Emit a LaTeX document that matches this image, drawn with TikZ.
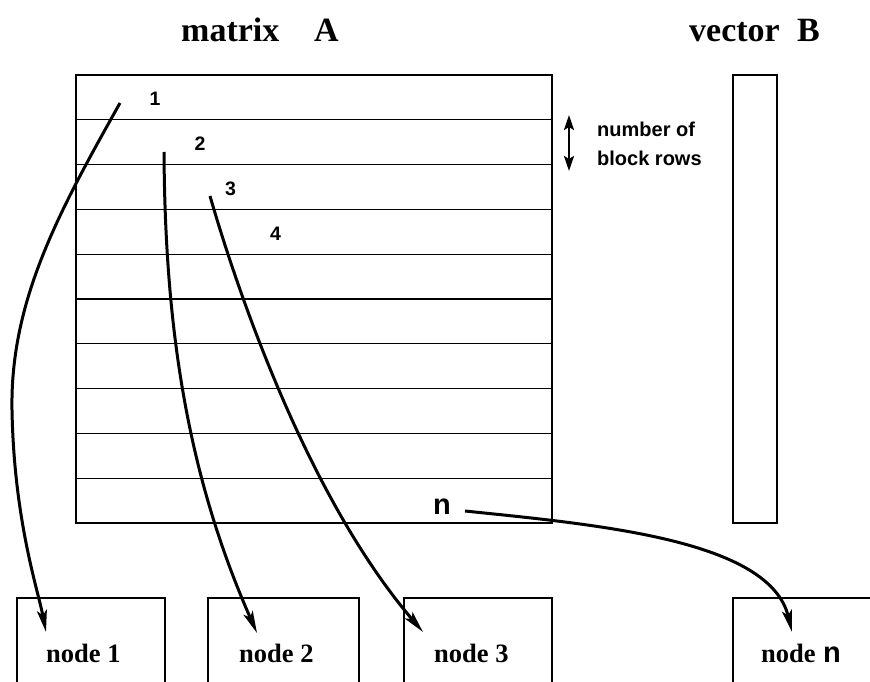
\documentclass[tikz,border=0pt]{standalone}
\usepackage{fontspec}
\setmainfont{Liberation Serif}
\setsansfont{Liberation Sans}
\usetikzlibrary{arrows.meta}
\tikzset{
  thin line/.style={line width=1.2pt},
  flow/.style={line width=3pt,-{Stealth[length=22pt,width=10pt,inset=5pt]}},
  title/.style={font=\fontsize{34}{36}\selectfont\bfseries,inner sep=0pt,anchor=base west},
  nodelabel/.style={font=\fontsize{26.5}{28}\selectfont\bfseries,inner sep=0pt,anchor=base west},
  num/.style={font=\sffamily\bfseries\fontsize{19.5}{21}\selectfont,inner sep=0pt},
  annot/.style={font=\sffamily\bfseries\fontsize{20}{28}\selectfont,inner sep=0pt,anchor=base west},
  bigsans/.style={font=\sffamily\bfseries\fontsize{29}{30}\selectfont,inner sep=0pt,anchor=base west},
}
\begin{document}
\begin{tikzpicture}[x=1pt,y=-1pt]
\useasboundingbox (0,0) rectangle (870,682);
% matrix A
\draw[thin line] (76,75) rectangle (552,523);
\foreach \k in {1,...,9} \draw[thin line] (76,{75+44.8*\k}) -- (552,{75+44.8*\k});
% vector B
\draw[thin line] (733,75) rectangle (777,523);
% bottom boxes
\draw[thin line] (17,700) |- (165,598) -- (165,700);
\draw[thin line] (208,700) |- (359,598) -- (359,700);
\draw[thin line] (404,700) |- (552,598) -- (552,700);
\draw[thin line] (733,700) |- (900,598);
% titles
\node[title] (tA1) at (181,42) {matrix};
\node[title] (tA2) at (314,42) {A};
\node[title] (tB1) at (689,42) {vector};
\node[title] (tB2) at (797,42) {B};
% row labels
\node[num] (r1) at (155,99) {1};
\node[num] (r2) at (200,143.5) {2};
\node[num] (r3) at (230.5,189) {3};
\node[num] (r4) at (275.5,234) {4};
\node[bigsans] (rn) at (433,514) {n};
% block rows
\coordinate (da) at (569,115);
\coordinate (db) at (569,171);
\draw[line width=2.5pt,{Stealth[length=15pt,width=10pt,inset=3pt]}-{Stealth[length=15pt,width=10pt,inset=3pt]}] (da) -- (db);
\node[annot] (br1) at (597,137) {number of};
\node[annot] (br2) at (597,165) {block rows};
% node labels
\node[nodelabel] (n1) at (46,662) {node 1};
\node[nodelabel] (n2) at (239,662) {node 2};
\node[nodelabel] (n3) at (434,662) {node 3};
\node[nodelabel] (nn) at (761,662) {node};
\node[bigsans] (nnn) at (823,662) {n};
% flows
\coordinate (s1) at (120,103);
\coordinate (e1) at (46,632);
\coordinate (s2) at (164,152);
\coordinate (e2) at (257,633);
\coordinate (s3) at (210,196);
\coordinate (e3) at (423,632);
\coordinate (sn) at (465,511);
\coordinate (en) at (792,632);
\draw[flow] (s1) .. controls (60,210) and (10,300) .. (12,410) .. controls (14,520) and (38,590) .. (e1);
\draw[flow] (s2) .. controls (165,320) and (185,470) .. (e2);
\draw[flow] (s3) .. controls (240,300) and (310,500) .. (e3);
\draw[flow] (sn) .. controls (600,525) and (770,540) .. (en);
\end{tikzpicture}
\end{document}
